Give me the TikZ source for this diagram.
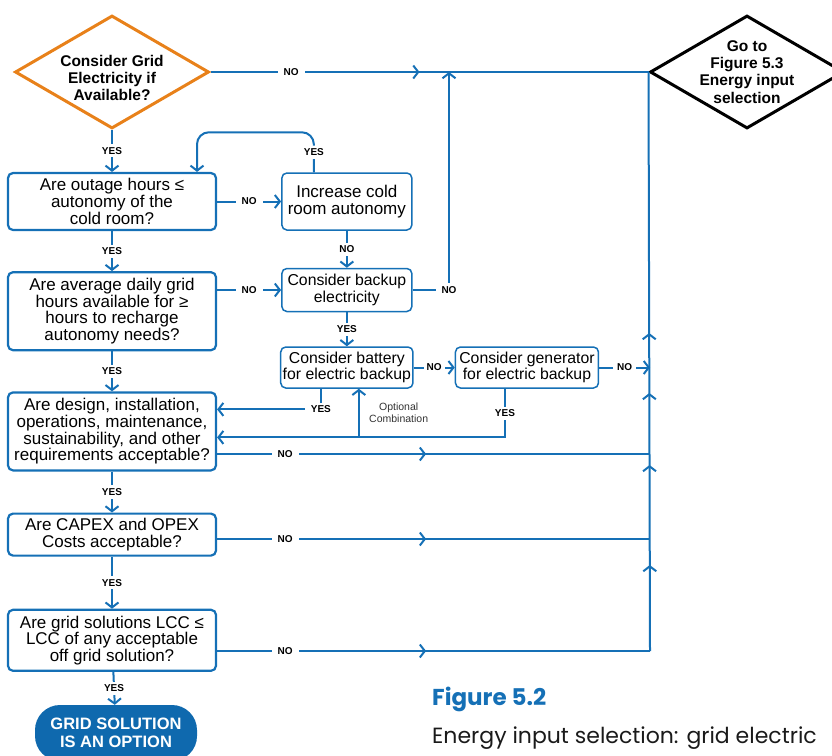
\documentclass[tikz,border=0pt]{standalone}
\usepackage{fontspec}
\setmainfont{Liberation Sans}
\newfontfamily\capfont{Poppins}
\usepackage{xcolor}
\usepackage{tikz}
\usetikzlibrary{shapes.geometric,arrows.meta,positioning,calc,decorations.markings}
\definecolor{flowB}{HTML}{1570B6}
\definecolor{termB}{HTML}{0F69AE}
\definecolor{askO}{HTML}{E8811A}
\definecolor{capK}{HTML}{1A1A1A}

\begin{document}
\begin{tikzpicture}[
  x=1pt,y=-1pt,
  >={Straight Barb[length=5pt,width=13pt]},
  every node/.style={align=center},
  qbox/.style={rounded corners=5pt,draw=flowB,line width=2.2pt,inner sep=2pt,
               minimum width=208pt,font=\fontsize{17}{16.7}\selectfont},
  abox/.style={rounded corners=5pt,draw=flowB,line width=1.5pt,inner sep=2pt,
               minimum width=130pt,font=\fontsize{15.8}{16.7}\selectfont},
  dia/.style={diamond,line width=3pt,inner sep=0pt,minimum width=194pt,minimum height=113pt},
  diatext/.style={font=\bfseries\fontsize{15.5}{17.3}\selectfont,inner sep=0pt},
  endbox/.style={rounded corners=25pt,fill=termB,text=white,minimum width=162pt,
               minimum height=56pt,font=\bfseries\fontsize{16.5}{18}\selectfont},
  lbl/.style={fill=white,inner xsep=6pt,inner ysep=3pt,font=\bfseries\fontsize{10}{11}\selectfont},
  arr/.style={->,draw=flowB,line width=2pt},
  wire/.style={draw=flowB,line width=2pt},
  midarr/.style={postaction={decorate,decoration={markings,
               mark=at position #1 with {\arrow[flowB,line width=2pt]{>}}}}}
]
\useasboundingbox (0,0) rectangle (832,755);
\clip (0,0) rectangle (832,755);

% LEFT: grid questions
\node[dia,draw=askO] (ask) at (112,72) {};
\node[diatext] (asktxt) at ([yshift=-6pt]ask) {Consider Grid\\Electricity if\\Available?};
\node[qbox,minimum height=57pt] (b1) at (112,201.5) {Are outage hours ≤\\autonomy of the\\cold room?};
\node[qbox,minimum height=78pt] (b2) [below=40pt of b1] {Are average daily grid\\hours available for ≥\\hours to recharge\\autonomy needs?};
\node[qbox,minimum height=78pt] (b3) [below=40pt of b2] {Are design, installation,\\operations, maintenance,\\sustainability, and other\\requirements acceptable?};
\node[qbox,minimum height=42pt] (b4) [below=41pt of b3] {Are CAPEX and OPEX\\Costs acceptable?};
\node[qbox,minimum height=61pt] (b5) [below=52pt of b4] {Are grid solutions LCC ≤\\LCC of any acceptable\\off grid solution?};
\node[endbox] (grid) at (116,733) {GRID SOLUTION\\IS AN OPTION};

% MIDDLE: backup options
\node[abox,minimum height=57pt,font=\fontsize{17}{16.7}\selectfont] (c1) [right=64pt of b1] {Increase cold\\room autonomy};
\node[abox,minimum height=43pt] (c2) [below=37pt of c1] {Consider backup\\electricity};
\node[abox,minimum height=41pt] (c3) [below=34pt of c2] {Consider battery\\for electric backup};
\node[abox,minimum height=41pt,minimum width=143pt] (c4) [right=41pt of c3] {Consider generator\\for electric backup};

% RIGHT: exit
\node[dia,draw=black] (go) at (747,72) {};
\node[diatext] (gotxt) at (go) {Go to\\Figure 5.3\\Energy input\\selection};
\coordinate (jn) at (449,72);
\coordinate (r3) at (650,454);
\coordinate (r4) at (650,539);
\coordinate (rail) at (650,651);

% yes chain
\draw[arr] (ask) -- node[lbl]{YES} (b1);
\draw[arr] (b1) -- node[lbl]{YES} (b2);
\draw[arr] (b2) -- node[lbl]{YES} (b3);
\draw[arr] (b3) -- node[lbl]{YES} (b4);
\draw[arr] (b4) -- node[lbl]{YES} (b5);
\draw[arr] (b5) -- node[lbl]{YES} (grid);

\draw[arr] (b1) -- node[lbl]{NO} (c1);
\draw[arr,rounded corners=12pt] ([xshift=-33pt]c1.north) -- node[lbl]{YES} ++(0,-40)
  -| ([xshift=85pt]b1.north);
\draw[arr] (c1) -- node[lbl]{NO} (c2);
\draw[arr] (b2.east |- c2) -- node[lbl]{NO} (c2);
\draw[arr] (c2) -- node[lbl]{YES} (c3);
\draw[arr] (c3) -- node[lbl,inner xsep=3pt]{NO} (c4);
\draw[arr] (c4) -- node[lbl,inner xsep=4pt]{NO} (c4 -| rail);
\draw[arr] ([xshift=-26pt]c3.south) |- node[lbl]{YES} ([yshift=22pt]b3.east);
\draw[arr] ([xshift=-22pt]c4.south) |- node[lbl,pos=0.25]{YES} ([yshift=-6pt]b3.east);
\draw[arr] ([xshift=12pt,yshift=-48pt]c3.south) -- node[anchor=west,xshift=6pt,
  font=\fontsize{10.5}{11.5}\selectfont,text=black!80] (optl) {Optional\\Combination} ([xshift=12pt]c3.south);

% no lines to the exit
\draw[wire,midarr=209pt] (ask) -- node[lbl,pos=0.184]{NO} (go);
\draw[arr] (c2.east) -| node[lbl]{NO} (jn);
\draw[wire,midarr=209pt] (b3.east |- r3) -- node[lbl,pos=0.157]{NO} (r3);
\draw[wire,midarr=209pt] (b4.east |- r4) -- node[lbl,pos=0.157]{NO} (r4);
\draw[wire,midarr=209pt] (b5.east |- rail) -- node[lbl,pos=0.157]{NO} (rail);
\draw[wire,midarr=86pt,midarr=186pt,midarr=258pt,midarr=318pt] (rail) -- (go.west);

% caption
\node[anchor=west,inner sep=0pt,text=flowB,font=\capfont\bfseries\fontsize{23}{26}\selectfont] (fig) at (432,699) {Figure 5.2};
\node[anchor=west,inner sep=0pt,text=capK,font=\capfont\fontsize{22}{25}\selectfont] (cap) at (432,738) {Energy input selection: grid electric};
\end{tikzpicture}
\end{document}
